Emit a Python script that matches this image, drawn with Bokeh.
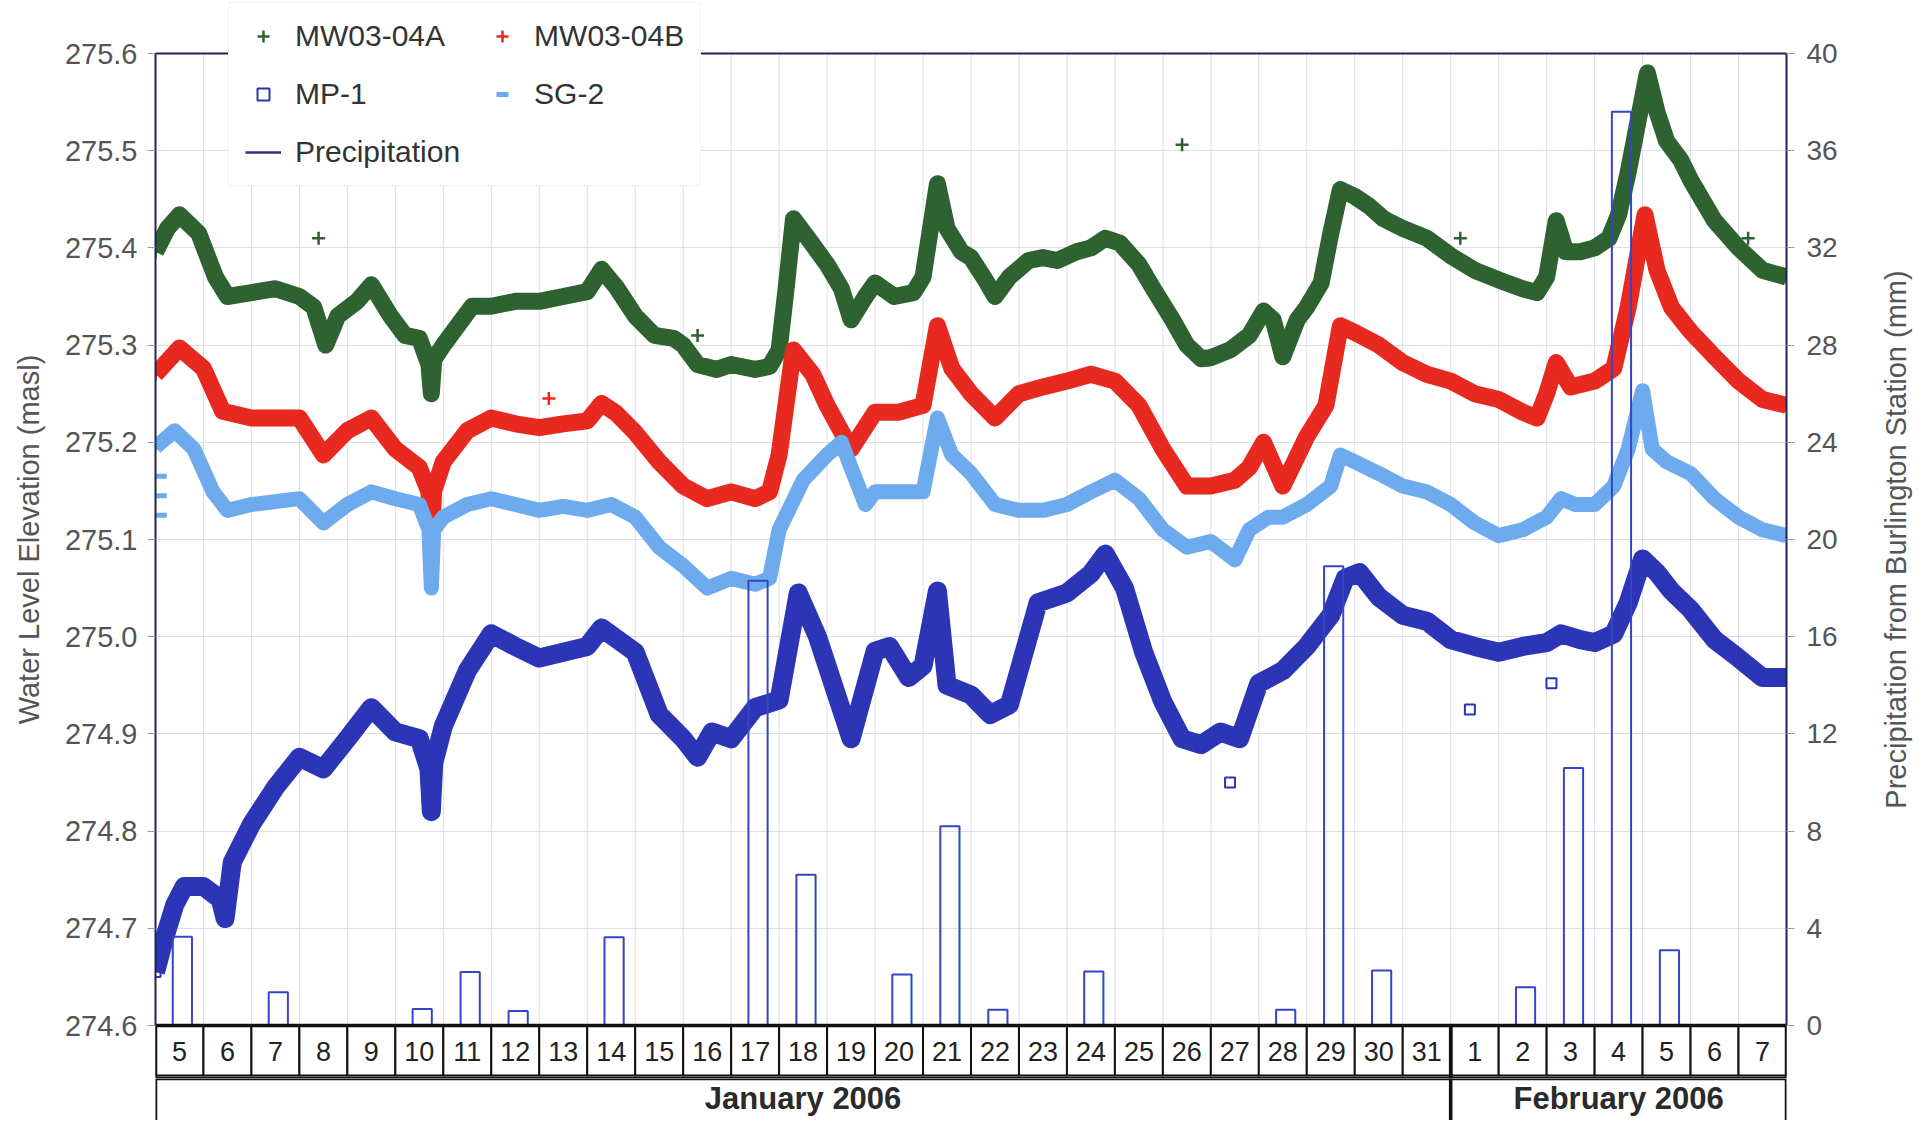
import math
from bokeh.plotting import figure
from bokeh.models import (Range1d, LinearAxis, Legend, LegendItem, FixedTicker,
                          PrintfTickFormatter, Span)
from bokeh.layouts import column, row
from bokeh.embed import file_html
from bokeh.resources import INLINE
from bokeh.core.properties import value

FONT = "Liberation Sans"

# ---------------- data ----------------
day_labels = ["5", "6", "7", "8", "9", "10", "11", "12", "13", "14", "15", "16", "17",
              "18", "19", "20", "21", "22", "23", "24", "25", "26", "27", "28", "29",
              "30", "31", "1", "2", "3", "4", "5", "6", "7"]
month_labels = ["January 2006", "February 2006"]
month_ndays = [27, 7]

# daily precipitation (mm), one per day cell
precip_mm = [3.65, 0, 1.37, 0, 0, 0.68, 2.2, 0.6, 0, 3.63, 0, 0, 18.3, 6.2, 0, 2.1,
             8.2, 0.65, 0, 2.22, 0, 0, 0, 0.65, 18.9, 2.26, 0, 0, 1.57, 10.6, 37.6,
             3.1, 0, 0]

# time in days since 5 Jan 2006 00:00, water level (masl)
mwa_t = [0.0, 0.25, 0.5, 0.9, 1.25, 1.5, 2.0, 2.5, 3.0, 3.3, 3.55, 3.8, 4.2, 4.5, 4.9,
         5.2, 5.5, 5.7, 5.75, 5.8, 6.0, 6.3, 6.6, 7.0, 7.5, 8.0, 8.5, 9.0, 9.3, 9.6,
         10.0, 10.4, 10.8, 11.0, 11.3, 11.7, 12.0, 12.5, 12.8, 13.0, 13.15, 13.3, 13.6,
         14.0, 14.3, 14.5, 14.8, 15.0, 15.4, 15.8, 16.0, 16.3, 16.5, 16.8, 17.0, 17.3,
         17.5, 17.8, 18.2, 18.5, 18.8, 19.2, 19.5, 19.8, 20.1, 20.5, 20.8, 21.2, 21.5,
         21.8, 22.0, 22.4, 22.8, 23.1, 23.3, 23.5, 23.8, 24.0, 24.3, 24.5, 24.7, 25.0,
         25.3, 25.6, 26.0, 26.5, 27.0, 27.5, 28.0, 28.5, 28.8, 29.0, 29.2, 29.4, 29.7,
         30.0, 30.3, 30.5, 30.7, 30.9, 31.1, 31.3, 31.5, 31.8, 32.0, 32.5, 33.0, 33.5,
         34.0]
mwa_v = [275.396, 275.42, 275.434, 275.415, 275.37, 275.35, 275.354, 275.358, 275.35,
         275.339, 275.30, 275.33, 275.345, 275.362, 275.33, 275.31, 275.307, 275.28,
         275.25, 275.285, 275.30, 275.32, 275.34, 275.34, 275.345, 275.345, 275.35,
         275.355, 275.378, 275.36, 275.33, 275.31, 275.307, 275.30, 275.28, 275.275,
         275.28, 275.275, 275.278, 275.295, 275.36, 275.43, 275.41, 275.383, 275.358,
         275.326, 275.35, 275.364, 275.35, 275.354, 275.37, 275.466, 275.42, 275.396,
         275.39, 275.367, 275.35, 275.37, 275.387, 275.39, 275.387, 275.396, 275.40,
         275.41, 275.405, 275.383, 275.358, 275.326, 275.30, 275.286, 275.287, 275.295,
         275.31, 275.335, 275.326, 275.288, 275.326, 275.339, 275.364, 275.415, 275.46,
         275.453, 275.443, 275.43, 275.42, 275.41, 275.392, 275.377, 275.367, 275.358,
         275.354, 275.37, 275.428, 275.396, 275.396, 275.40, 275.41, 275.434, 275.478,
         275.529, 275.58, 275.54, 275.51, 275.49, 275.47, 275.428, 275.40, 275.377,
         275.37]
mwa_out_t = [3.4, 11.3, 21.4, 27.2, 33.2]
mwa_out_v = [275.41, 275.31, 275.506, 275.41, 275.41]

mwb_t = [0.0, 0.5, 1.0, 1.4, 2.0, 3.0, 3.5, 4.0, 4.5, 5.0, 5.5, 5.7, 5.75, 5.8, 6.0,
         6.5, 7.0, 7.5, 8.0, 8.5, 9.0, 9.3, 9.6, 10.0, 10.5, 11.0, 11.5, 12.0, 12.5,
         12.8, 13.0, 13.3, 13.7, 14.0, 14.5, 15.0, 15.5, 16.0, 16.3, 16.6, 17.0, 17.5,
         18.0, 18.5, 19.0, 19.5, 20.0, 20.5, 21.0, 21.5, 22.0, 22.5, 22.8, 23.1, 23.5,
         24.0, 24.4, 24.7, 25.0, 25.5, 26.0, 26.5, 27.0, 27.5, 28.0, 28.5, 28.8, 29.0,
         29.2, 29.5, 30.0, 30.4, 30.7, 31.05, 31.3, 31.6, 32.0, 32.5, 33.0, 33.5, 34.0]
mwb_v = [275.27, 275.297, 275.276, 275.232, 275.225, 275.225, 275.187, 275.212,
         275.225, 275.193, 275.174, 275.149, 275.10, 275.15, 275.18, 275.212, 275.225,
         275.219, 275.215, 275.219, 275.222, 275.24, 275.23, 275.21, 275.18, 275.155,
         275.142, 275.149, 275.142, 275.149, 275.187, 275.295, 275.27, 275.238, 275.193,
         275.231, 275.231, 275.238, 275.32, 275.276, 275.25, 275.225, 275.25, 275.257,
         275.263, 275.27, 275.263, 275.238, 275.193, 275.155, 275.155, 275.161, 275.174,
         275.20, 275.155, 275.206, 275.238, 275.32, 275.313, 275.30, 275.282, 275.27,
         275.263, 275.25, 275.244, 275.231, 275.225, 275.25, 275.282, 275.257, 275.263,
         275.276, 275.339, 275.434, 275.377, 275.339, 275.314, 275.288, 275.263,
         275.244, 275.238]
mwb_out_t = [8.2]
mwb_out_v = [275.245]

sg2_t = [0.0, 0.4, 0.8, 1.2, 1.5, 2.0, 3.0, 3.5, 4.0, 4.5, 5.0, 5.5, 5.7, 5.75, 5.8,
         6.0, 6.5, 7.0, 7.5, 8.0, 8.5, 9.0, 9.5, 10.0, 10.5, 11.0, 11.5, 12.0, 12.5,
         12.8, 13.0, 13.5, 14.0, 14.3, 14.5, 14.8, 15.0, 15.5, 16.0, 16.3, 16.6, 17.0,
         17.5, 18.0, 18.5, 19.0, 19.5, 20.0, 20.5, 21.0, 21.5, 22.0, 22.5, 22.8, 23.2,
         23.5, 24.0, 24.5, 24.7, 25.0, 25.5, 26.0, 26.5, 27.0, 27.5, 28.0, 28.5, 29.0,
         29.3, 29.6, 30.0, 30.4, 30.7, 31.0, 31.2, 31.5, 32.0, 32.5, 33.0, 33.5, 34.0]
sg2_v = [275.195, 275.212, 275.193, 275.149, 275.13, 275.136, 275.142, 275.117,
         275.136, 275.149, 275.142, 275.136, 275.11, 275.05, 275.11, 275.123, 275.136,
         275.142, 275.136, 275.13, 275.134, 275.13, 275.136, 275.123, 275.092, 275.073,
         275.05, 275.06, 275.054, 275.06, 275.11, 275.161, 275.187, 275.2, 275.174,
         275.136, 275.149, 275.149, 275.149, 275.225, 275.187, 275.168, 275.136, 275.13,
         275.13, 275.136, 275.149, 275.161, 275.142, 275.11, 275.092, 275.098, 275.079,
         275.11, 275.123, 275.123, 275.136, 275.155, 275.187, 275.18, 275.168, 275.155,
         275.149, 275.136, 275.117, 275.104, 275.11, 275.123, 275.142, 275.136, 275.136,
         275.155, 275.193, 275.253, 275.193, 275.18, 275.168, 275.142, 275.123, 275.11,
         275.104]
sg2_out_t = [0.12, 0.12, 0.12]
sg2_out_v = [275.165, 275.145, 275.125]

mp1_t = [0.0, 0.2, 0.4, 0.6, 1.0, 1.35, 1.45, 1.6, 2.0, 2.5, 3.0, 3.5, 4.0, 4.5, 5.0,
         5.5, 5.7, 5.75, 5.8, 6.0, 6.5, 7.0, 7.5, 8.0, 8.5, 9.0, 9.3, 10.0, 10.5, 11.0,
         11.3, 11.6, 12.0, 12.5, 13.0, 13.4, 13.8, 14.5, 15.0, 15.3, 15.7, 16.0, 16.3,
         16.5, 17.0, 17.4, 17.8, 18.4, 19.0, 19.5, 19.8, 20.2, 20.6, 21.0, 21.4, 21.8,
         22.2, 22.6, 23.0, 23.5, 24.0, 24.5, 24.8, 25.1, 25.5, 26.0, 26.5, 27.0, 27.5,
         28.0, 28.5, 29.0, 29.3, 29.7, 30.0, 30.4, 30.7, 31.0, 31.3, 31.6, 32.0, 32.5,
         33.0, 33.5, 34.0]
mp1_v = [274.655, 274.692, 274.724, 274.743, 274.743, 274.73, 274.71, 274.768, 274.807,
         274.845, 274.876, 274.864, 274.895, 274.927, 274.902, 274.895, 274.864, 274.82,
         274.87, 274.908, 274.965, 275.003, 274.99, 274.978, 274.984, 274.99, 275.009,
         274.984, 274.92, 274.895, 274.876, 274.902, 274.895, 274.927, 274.935, 275.045,
         275.0, 274.895, 274.985, 274.99, 274.958, 274.97, 275.047, 274.95, 274.94,
         274.92, 274.93, 275.035, 275.045, 275.065, 275.085, 275.05, 274.984, 274.933,
         274.895, 274.889, 274.902, 274.895, 274.952, 274.965, 274.99, 275.022, 275.06,
         275.066, 275.041, 275.022, 275.016, 274.997, 274.99, 274.984, 274.99, 274.994,
         275.003, 274.997, 274.994, 275.003, 275.035, 275.08, 275.066, 275.047, 275.028,
         274.997, 274.978, 274.958, 274.958]
mp1_out_t = [22.4, 27.4, 29.1]
mp1_out_v = [274.85, 274.925, 274.952]

left_ticks = [274.6, 274.7, 274.8, 274.9, 275.0, 275.1, 275.2, 275.3, 275.4, 275.5, 275.6]
right_ticks = [0, 4, 8, 12, 16, 20, 24, 28, 32, 36, 40]
left_title = "Water Level Elevation (masl)"
right_title = "Precipitation from Burlington Station (mm)"

# ---------------- styling / geometry ----------------
C_A = "#2e6331"
C_B = "#e8291f"
C_SG = "#6eaaee"
C_MP = "#2b35b5"
C_BAR = "#3545c8"
C_FRAME = "#1f2452"
C_GRID = "#dcdde6"
C_TXT = "#555555"

W_ALL = 1921
W_TITLE = 60
W = W_ALL - W_TITLE
H = 1078                     # main figure height
H_T = 42                     # month row figure height
ML, MR = 155, 135
Y_LO, Y_HI = left_ticks[0], left_ticks[-1]
PX_PER_UNIT = 972.0          # pixels for the 274.6 .. 275.6 span
TOP_PX = 53.0
BOT_PX = H - TOP_PX - PX_PER_UNIT
SPAN = Y_HI - Y_LO
Y0 = Y_LO - BOT_PX / PX_PER_UNIT * SPAN
Y1 = Y_HI + TOP_PX / PX_PER_UNIT * SPAN
MM_PER_UNIT = (right_ticks[-1] - right_ticks[0]) / SPAN
ndays = len(day_labels)


def py(px_below_axis):
    """y data coordinate for a distance (px) below the 274.6 line."""
    return Y_LO - px_below_axis / PX_PER_UNIT * SPAN


p = figure(width=W, height=H, x_range=Range1d(0, ndays), y_range=Range1d(Y0, Y1),
           output_backend="svg", toolbar_location=None, x_axis_location=None,
           min_border_left=ML, min_border_right=MR - W_TITLE, min_border_top=0,
           min_border_bottom=0)
p.outline_line_color = None
p.background_fill_color = "white"
p.border_fill_color = "white"

ax = p.yaxis[0]
ax.ticker = FixedTicker(ticks=left_ticks)
ax.bounds = (Y_LO, Y_HI)
ax.formatter = PrintfTickFormatter(format="%.1f")
ax.axis_label = left_title
ax.axis_label_text_font = FONT
ax.axis_label_text_font_size = "29px"
ax.axis_label_text_font_style = "normal"
ax.axis_label_text_color = C_TXT
ax.axis_label_standoff = 17
ax.major_label_text_font = FONT
ax.major_label_text_font_size = "29px"
ax.major_label_text_color = C_TXT
ax.major_label_standoff = 10
ax.major_tick_out = 8
ax.major_tick_in = 0
ax.minor_tick_out = 0
ax.minor_tick_in = 0
ax.major_tick_line_color = "#9a9aa8"
ax.axis_line_color = C_FRAME
ax.axis_line_width = 2

p.ygrid.ticker = FixedTicker(ticks=left_ticks)
p.ygrid.grid_line_color = C_GRID
p.xgrid.visible = False

p.extra_y_ranges = {"precip": Range1d((Y0 - Y_LO) * MM_PER_UNIT, (Y1 - Y_LO) * MM_PER_UNIT)}
ax2 = LinearAxis(y_range_name="precip", ticker=FixedTicker(ticks=right_ticks))
ax2.bounds = (right_ticks[0], right_ticks[-1])
ax2.major_label_text_font = FONT
ax2.major_label_text_font_size = "28px"
ax2.major_label_text_color = C_TXT
ax2.major_label_standoff = 12
ax2.major_tick_out = 8
ax2.major_tick_in = 0
ax2.minor_tick_out = 0
ax2.minor_tick_in = 0
ax2.major_tick_line_color = "#9a9aa8"
ax2.axis_line_color = C_FRAME
ax2.axis_line_width = 2
p.add_layout(ax2, "right")

# top frame line
p.add_layout(Span(location=Y_HI, dimension="width", line_color=C_FRAME, line_width=2))

# vertical day gridlines inside the plotting area
gx = list(range(1, ndays))
p.segment(x0=gx, y0=Y_LO, x1=gx, y1=Y_HI, line_color=C_GRID, line_width=1)


def series(t, v, ot, ov, color, marker, msize, mlw, lw):
    p.line(t, v, line_color=color, line_width=lw, line_join="round", line_cap="butt")
    r = p.scatter(t, v, marker=marker, size=msize, line_color=color, line_width=mlw,
                  fill_alpha=0)
    p.scatter(ot, ov, marker=marker, size=msize, line_color=color, line_width=mlw,
              fill_alpha=0)
    return r


r_a = series(mwa_t, mwa_v, mwa_out_t, mwa_out_v, C_A, "cross", 13, 2.5, 17)
r_b = series(mwb_t, mwb_v, mwb_out_t, mwb_out_v, C_B, "cross", 13, 2.5, 17)
r_sg = series(sg2_t, sg2_v, sg2_out_t, sg2_out_v, C_SG, "dash", 11, 5, 15)
r_mp = series(mp1_t, mp1_v, mp1_out_t, mp1_out_v, C_MP, "square", 10, 2, 19)

# precipitation bars (hollow), on the right axis
bx = [i + 0.56 for i, v in enumerate(precip_mm) if v > 0]
bt = [v for v in precip_mm if v > 0]
p.vbar(x=bx, top=bt, bottom=0, width=0.4, y_range_name="precip",
       fill_alpha=0, line_color=C_BAR, line_width=2)
# legend-only line for the precipitation entry (draws nothing in the plot)
r_pr = p.line([float("nan")], [float("nan")], line_color="#2b2f86", line_width=2.5)

# ---------------- day row of the date table ----------------
lefts = list(range(ndays))
p.quad(left=lefts, right=[l + 1 for l in lefts], top=Y_LO, bottom=py(50),
       fill_color="white", line_color="#111111", line_width=2)
p.text(x=[l + 0.5 for l in lefts], y=py(26), text=day_labels, text_align="center",
       text_baseline="middle", text_font=value(FONT), text_font_size="27px",
       text_color="#222222")
m_left = [sum(month_ndays[:i]) for i in range(len(month_ndays))]
m_right = [m_left[i] + month_ndays[i] for i in range(len(month_ndays))]
p.quad(left=m_left, right=m_right, top=Y_LO, bottom=Y0, fill_alpha=0,
       line_color="#111111", line_width=3.5)

# ---------------- legend ----------------
legend = Legend(items=[
    LegendItem(label="MW03-04A", renderers=[r_a]),
    LegendItem(label="MP-1", renderers=[r_mp]),
    LegendItem(label="Precipitation", renderers=[r_pr]),
    LegendItem(label="MW03-04B", renderers=[r_b]),
    LegendItem(label="SG-2", renderers=[r_sg]),
], location=(73, H - 186), ncols=2)
legend.label_text_font = FONT
legend.label_text_font_size = "30px"
legend.label_text_color = "#333333"
legend.glyph_width = 36
legend.glyph_height = 30
legend.label_height = 30
legend.label_standoff = 14
legend.spacing = 24
legend.padding = 16
legend.margin = 0
legend.border_line_color = "#e4e4e8"
legend.border_line_width = 1
legend.background_fill_color = "white"
legend.background_fill_alpha = 1
p.add_layout(legend, "center")

# ---------------- right-hand title (reads bottom to top) ----------------
rt = figure(width=W_TITLE, height=H, x_range=Range1d(0, 1), y_range=Range1d(0, 1),
            output_backend="svg", toolbar_location=None, x_axis_location=None,
            y_axis_location=None, min_border_left=0, min_border_right=0,
            min_border_top=0, min_border_bottom=0)
rt.outline_line_color = None
rt.grid.visible = False
rt.text(x=[0.57], y=[0.5], text=[right_title], angle=math.pi / 2, text_align="center",
        text_baseline="middle", text_font=value(FONT), text_font_size="29px",
        text_color=C_TXT)

# ---------------- month row of the date table ----------------
t = figure(width=W_ALL, height=H_T, x_range=p.x_range, y_range=Range1d(0, H_T),
           output_backend="svg", toolbar_location=None,
           x_axis_location=None, y_axis_location=None,
           min_border_left=ML, min_border_right=MR, min_border_top=0, min_border_bottom=0)
t.outline_line_color = None
t.grid.visible = False
t.border_fill_color = "white"
t.quad(left=m_left, right=m_right, top=H_T, bottom=-6, fill_color="white",
       line_color="#111111", line_width=3.5)
t.text(x=[(a + b) / 2 for a, b in zip(m_left, m_right)], y=H_T - 20, text=month_labels,
       text_align="center", text_baseline="middle", text_font=value(FONT),
       text_font_size="31px", text_font_style="bold", text_color="#2a2a2a")

layout = column(row(p, rt, spacing=0), t, spacing=0)
open("out.html", "w").write(file_html(layout, INLINE))
